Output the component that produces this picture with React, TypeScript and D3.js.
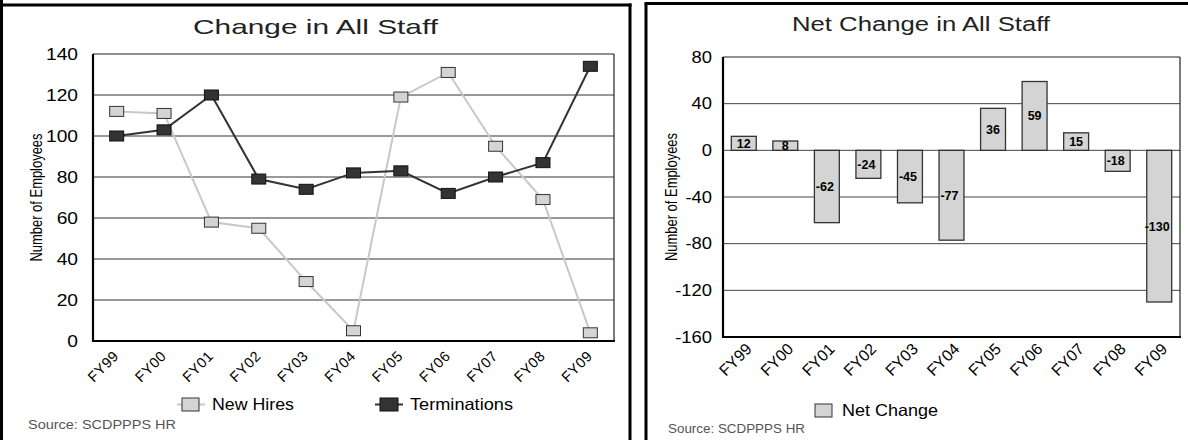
import React from 'react';
import * as d3 from 'd3';

const categories = ['FY99', 'FY00', 'FY01', 'FY02', 'FY03', 'FY04', 'FY05', 'FY06', 'FY07', 'FY08', 'FY09'];
const newHires = [112, 111, 58, 55, 29, 5, 119, 131, 95, 69, 4];
const terminations = [100, 103, 120, 79, 74, 82, 83, 72, 80, 87, 134];
const netChange = [12, 8, -62, -24, -45, -77, 36, 59, 15, -18, -130];
const leftTicks = [0, 20, 40, 60, 80, 100, 120, 140];
const rightTicks = [-160, -120, -80, -40, 0, 40, 80];

const FONT = '"Liberation Sans", Arial, Helvetica, sans-serif';

function LeftChart() {
  const x = d3.scalePoint<string>().domain(categories).range([93, 614]).padding(0.5);
  const y = d3.scaleLinear().domain([0, 140]).range([341, 54]);
  const line = d3
    .line<number>()
    .x((_, i) => x(categories[i]) as number)
    .y((d) => y(d));
  const mw = 14;
  const mh = 10;
  return (
    <g>
      {/* panel border */}
      <line x1={1.5} y1={0} x2={1.5} y2={440} stroke="#000" strokeWidth={3} />
      <line x1={0} y1={5} x2={631.5} y2={5} stroke="#000" strokeWidth={3} />
      <line x1={630} y1={3.5} x2={630} y2={440} stroke="#000" strokeWidth={3} />

      <text x={193} y={33.5} fontSize={21} fill="#222" textLength={245} lengthAdjust="spacingAndGlyphs">
        Change in All Staff
      </text>

      {/* grid */}
      {leftTicks.slice(1, -1).map((t) => (
        <line key={t} x1={93} x2={614} y1={y(t)} y2={y(t)} stroke="#333" strokeWidth={1} />
      ))}
      <line x1={93} x2={614} y1={y(140)} y2={y(140)} stroke="#222" strokeWidth={1.2} />
      <line x1={614} x2={614} y1={y(140)} y2={y(0)} stroke="#222" strokeWidth={1.2} />
      <line x1={93} x2={93} y1={y(140)} y2={y(0) + 1} stroke="#000" strokeWidth={2.2} />
      <line x1={92} x2={615} y1={y(0)} y2={y(0)} stroke="#000" strokeWidth={2.2} />

      {leftTicks.map((t) => (
        <text
          key={t}
          transform={`translate(78,${y(t) + 5.5}) scale(1.2,1)`}
          fontSize={16}
          textAnchor="end"
          fill="#000"
        >
          {t}
        </text>
      ))}

      <text
        transform={`translate(42,${(y(0) + y(140)) / 2}) rotate(-90) scale(1,1.3)`}
        textAnchor="middle"
        fontSize={13}
        textLength={128}
        lengthAdjust="spacingAndGlyphs"
        fill="#000"
      >
        Number of Employees
      </text>

      {categories.map((c) => (
        <text
          key={c}
          transform={`translate(${(x(c) as number) + 3},${y(0) + 16}) rotate(-45)`}
          textAnchor="end"
          fontSize={14.5}
          letterSpacing={0.5}
          fill="#000"
        >
          {c}
        </text>
      ))}

      <path d={line(newHires) || ''} fill="none" stroke="#c8c8c8" strokeWidth={2} />
      <path d={line(terminations) || ''} fill="none" stroke="#333" strokeWidth={2} />
      {newHires.map((v, i) => (
        <rect
          key={'n' + i}
          x={(x(categories[i]) as number) - mw / 2}
          y={y(v) - mh / 2}
          width={mw}
          height={mh}
          fill="#d4d4d4"
          stroke="#333"
          strokeWidth={1}
        />
      ))}
      {terminations.map((v, i) => (
        <rect
          key={'t' + i}
          x={(x(categories[i]) as number) - mw / 2}
          y={y(v) - mh / 2}
          width={mw}
          height={mh}
          fill="#333"
          stroke="#111"
          strokeWidth={1}
        />
      ))}

      {/* legend */}
      <line x1={177} x2={205} y1={404.5} y2={404.5} stroke="#c8c8c8" strokeWidth={2} />
      <rect x={182} y={398} width={17} height={13} fill="#d4d4d4" stroke="#333" strokeWidth={1} />
      <text x={212} y={409.5} fontSize={16.5} textLength={82} lengthAdjust="spacingAndGlyphs" fill="#000">
        New Hires
      </text>
      <line x1={375} x2={403} y1={404.5} y2={404.5} stroke="#333" strokeWidth={2} />
      <rect x={380} y={398} width={18} height={13} fill="#333" stroke="#111" strokeWidth={1} />
      <text x={410} y={409.5} fontSize={16.5} textLength={103} lengthAdjust="spacingAndGlyphs" fill="#000">
        Terminations
      </text>

      <text x={28} y={429} fontSize={12.5} fill="#555" textLength={148} lengthAdjust="spacingAndGlyphs">
        Source: SCDPPPS HR
      </text>
    </g>
  );
}

function RightChart() {
  const x = d3.scaleBand<string>().domain(categories).range([723, 1180]).paddingInner(0.4).paddingOuter(0.2);
  const y = d3.scaleLinear().domain([-160, 80]).range([337, 57]);
  const centre = (c: string) => (x(c) as number) + x.bandwidth() / 2;
  return (
    <g>
      <line x1={646} y1={3.5} x2={646} y2={440} stroke="#000" strokeWidth={3} />
      <line x1={644.5} y1={3.5} x2={1188} y2={3.5} stroke="#000" strokeWidth={3} />

      <text x={792} y={31} fontSize={20} fill="#222" textLength={258} lengthAdjust="spacingAndGlyphs">
        Net Change in All Staff
      </text>

      {rightTicks.slice(1, -1).map((t) => (
        <line key={t} x1={723} x2={1180} y1={y(t)} y2={y(t)} stroke="#444" strokeWidth={1} />
      ))}
      <line x1={723} x2={1180} y1={y(80)} y2={y(80)} stroke="#222" strokeWidth={1.2} />
      <line x1={1180} x2={1180} y1={y(80)} y2={y(-160)} stroke="#222" strokeWidth={1.2} />

      {netChange.map((v, i) => {
        const c = categories[i];
        const top = y(Math.max(0, v));
        const bottom = y(Math.min(0, v));
        return (
          <rect
            key={c}
            x={x(c)}
            y={top}
            width={x.bandwidth()}
            height={bottom - top}
            fill="#d4d4d4"
            stroke="#333"
            strokeWidth={1.3}
          />
        );
      })}
      {netChange.map((v, i) => {
        const c = categories[i];
        const mid = (y(v) + y(0)) / 2;
        return (
          <text
            key={'l' + c}
            x={centre(c) - (v < 0 ? 2 : 0)}
            y={mid + 4.5}
            textAnchor="middle"
            fontSize={12.5}
            fontWeight="bold"
            fill="#000"
          >
            {v}
          </text>
        );
      })}

      <line x1={723} x2={723} y1={y(80)} y2={y(-160) + 1} stroke="#000" strokeWidth={2.2} />
      <line x1={722} x2={1181} y1={y(-160)} y2={y(-160)} stroke="#000" strokeWidth={2.2} />

      {rightTicks.map((t) => (
        <text
          key={t}
          transform={`translate(712,${y(t) + 5.5}) scale(1.15,1)`}
          fontSize={16}
          textAnchor="end"
          fill="#000"
        >
          {t}
        </text>
      ))}

      <text
        transform={`translate(677,${(y(80) + y(-160)) / 2}) rotate(-90) scale(1,1.3)`}
        textAnchor="middle"
        fontSize={13}
        textLength={128}
        lengthAdjust="spacingAndGlyphs"
        fill="#000"
      >
        Number of Employees
      </text>

      {categories.map((c) => (
        <text
          key={c}
          transform={`translate(${centre(c) + 9},${y(-160) + 13}) rotate(-45)`}
          textAnchor="end"
          fontSize={16}
          fill="#000"
        >
          {c}
        </text>
      ))}

      <rect x={815} y={404} width={17} height={13} fill="#d4d4d4" stroke="#333" strokeWidth={1} />
      <text x={842} y={416} fontSize={16.5} textLength={96} lengthAdjust="spacingAndGlyphs" fill="#000">
        Net Change
      </text>

      <text x={668} y={433} fontSize={12} fill="#555" textLength={137} lengthAdjust="spacingAndGlyphs">
        Source: SCDPPPS HR
      </text>
    </g>
  );
}

export default function App() {
  return (
    <svg
      width={1188}
      height={440}
      viewBox="0 0 1188 440"
      style={{ position: 'absolute', left: 0, top: 0, background: '#fff' }}
      fontFamily={FONT}
    >
      <rect x={0} y={0} width={1188} height={440} fill="#fff" />
      <LeftChart />
      <RightChart />
    </svg>
  );
}
